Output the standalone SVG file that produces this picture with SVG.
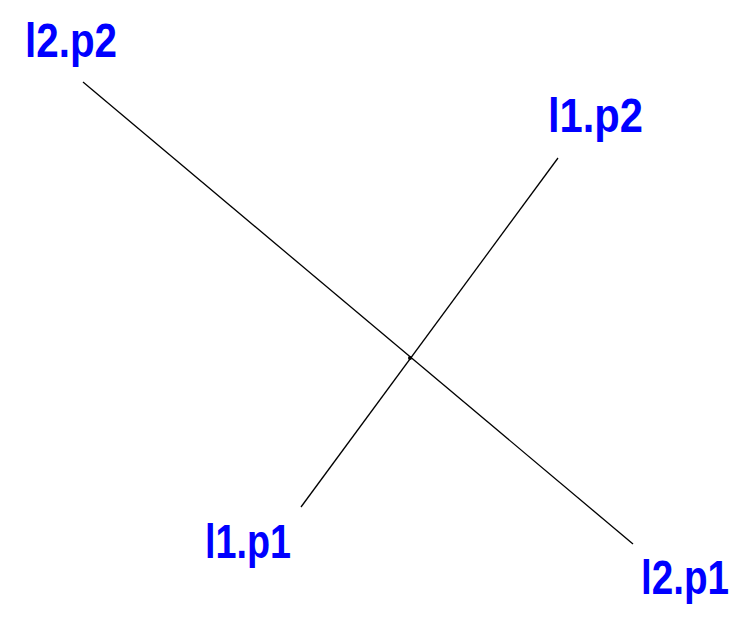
<svg xmlns="http://www.w3.org/2000/svg" width="742" height="619" viewBox="0 0 742 619">
<style>
.lbl{font-family:"Liberation Sans",Arial,sans-serif;font-weight:bold;font-size:48px;fill:#0000ff}
.ln{stroke:#000;stroke-width:1.3;fill:none}
</style>
<rect width="742" height="619" fill="#fff"/>
<g id="connectors">
<line class="ln" x1="83" y1="82" x2="633" y2="544"/>
<line class="ln" x1="301" y1="507" x2="558" y2="158"/>
<circle cx="410" cy="358" r="2" fill="#000"/>
</g>
<g id="l2p2"><text class="lbl" x="25" y="57" textLength="92" lengthAdjust="spacingAndGlyphs">l2.p2</text></g>
<g id="l1p2"><text class="lbl" x="548" y="132" textLength="95" lengthAdjust="spacingAndGlyphs">l1.p2</text></g>
<g id="l1p1"><text class="lbl" x="205" y="558" textLength="86" lengthAdjust="spacingAndGlyphs">l1.p1</text></g>
<g id="l2p1"><text class="lbl" x="641" y="594" textLength="88" lengthAdjust="spacingAndGlyphs">l2.p1</text></g>
</svg>
